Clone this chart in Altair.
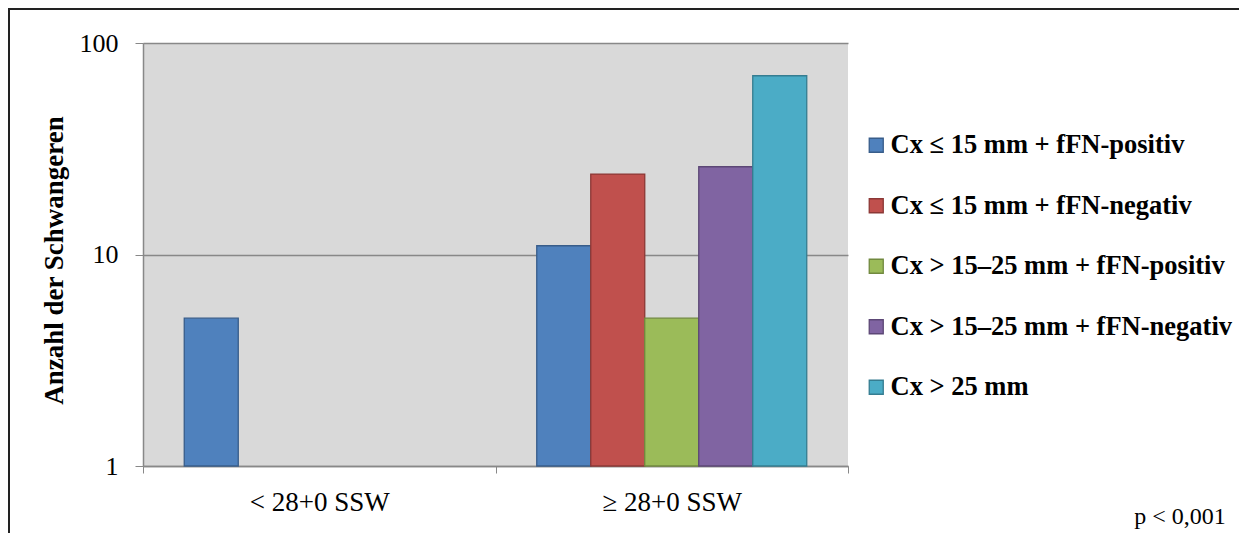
import altair as alt
import pandas as pd

groups = ["< 28+0 SSW", "≥ 28+0 SSW"]
series = [
    "Cx ≤ 15 mm + fFN-positiv",
    "Cx ≤ 15 mm + fFN-negativ",
    "Cx > 15–25 mm + fFN-positiv",
    "Cx > 15–25 mm + fFN-negativ",
    "Cx > 25 mm",
]
values_lt28 = [5, None, None, None, None]
values_ge28 = [11, 24, 5, 26, 70]
fill_colors = ["#4F81BD", "#C0504D", "#9BBB59", "#8064A2", "#4BACC6"]
stroke_colors = ["#385D8A", "#8C3836", "#71893F", "#5C4776", "#357D91"]
y_ticks = [1, 10, 100]
p_text = "p < 0,001"

rows = []
for g, vals in zip(groups, [values_lt28, values_ge28]):
    for s, v in zip(series, vals):
        if v is not None:
            rows.append({"group": g, "series": s, "value": v})
df = pd.DataFrame(rows)

FONT = "Liberation Serif"
W, H = 705, 423

legend_kw = dict(title=None, orient="none", legendX=720, legendY=89,
                 symbolType="square", symbolSize=196,
                 symbolStrokeWidth=1.3, padding=0,
                 labelFont=FONT, labelFontSize=26.5,
                 labelFontWeight="bold", labelColor="#000",
                 labelOffset=1, rowPadding=33.5, labelLimit=500)

bars = alt.Chart(df).mark_bar(strokeWidth=1.3).encode(
    x=alt.X("group:N", sort=groups,
            scale=alt.Scale(paddingInner=0, paddingOuter=0),
            axis=alt.Axis(title=None, labelAngle=0, tickBand="extent",
                          labelFontSize=27, labelFont=FONT, labelColor="#000",
                          labelPadding=16, tickSize=7, tickColor="#888",
                          domainColor="#888", domainWidth=1.5, grid=False)),
    xOffset=alt.XOffset("series:N", sort=series,
                        scale=alt.Scale(paddingInner=0, paddingOuter=0.764)),
    y=alt.Y("value:Q",
            scale=alt.Scale(type="log", domain=[1, 100], nice=False),
            axis=alt.Axis(title="Anzahl der Schwangeren", values=y_ticks, format="d",
                          labelFontSize=26, labelFont=FONT, labelColor="#000",
                          labelPadding=17, tickSize=8, tickColor="#888",
                          domainColor="#888", domainWidth=1.5,
                          gridColor="#888", gridWidth=1.5,
                          titleFont=FONT, titleFontSize=27, titleFontWeight="bold",
                          titleColor="#000", titleX=-89, titleY=217,
                          titleAngle=-90, titleAlign="center", titleBaseline="middle")),
    y2=alt.datum(1),
    fill=alt.Fill("series:N", sort=series,
                  scale=alt.Scale(domain=series, range=fill_colors),
                  legend=alt.Legend(**legend_kw)),
    stroke=alt.Stroke("series:N", sort=series,
                      scale=alt.Scale(domain=series, range=stroke_colors),
                      legend=alt.Legend(**legend_kw)),
)

ptext = alt.Chart(pd.DataFrame({"t": [p_text]})).mark_text(
    font=FONT, fontSize=24, color="#000", align="center", baseline="middle"
).encode(text="t:N", x=alt.value(1037), y=alt.value(474))

border_top = alt.Chart(pd.DataFrame({"a": [0]})).mark_rule(
    color="#222", strokeWidth=2
).encode(x=alt.value(-135), x2=alt.value(1110), y=alt.value(-34))
border_left = alt.Chart(pd.DataFrame({"a": [0]})).mark_rule(
    color="#222", strokeWidth=2
).encode(x=alt.value(-134), y=alt.value(-35), y2=alt.value(500))

chart = alt.layer(bars, ptext, border_top, border_left).properties(
    width=W, height=H,
    autosize=alt.AutoSizeParams(type="none"),
    padding={"left": 135, "top": 35, "right": 391, "bottom": 67},
    background="white",
).configure_view(fill="#D9D9D9", stroke=None)

chart.save("out.html", embed_options={"renderer": "svg", "actions": False})
